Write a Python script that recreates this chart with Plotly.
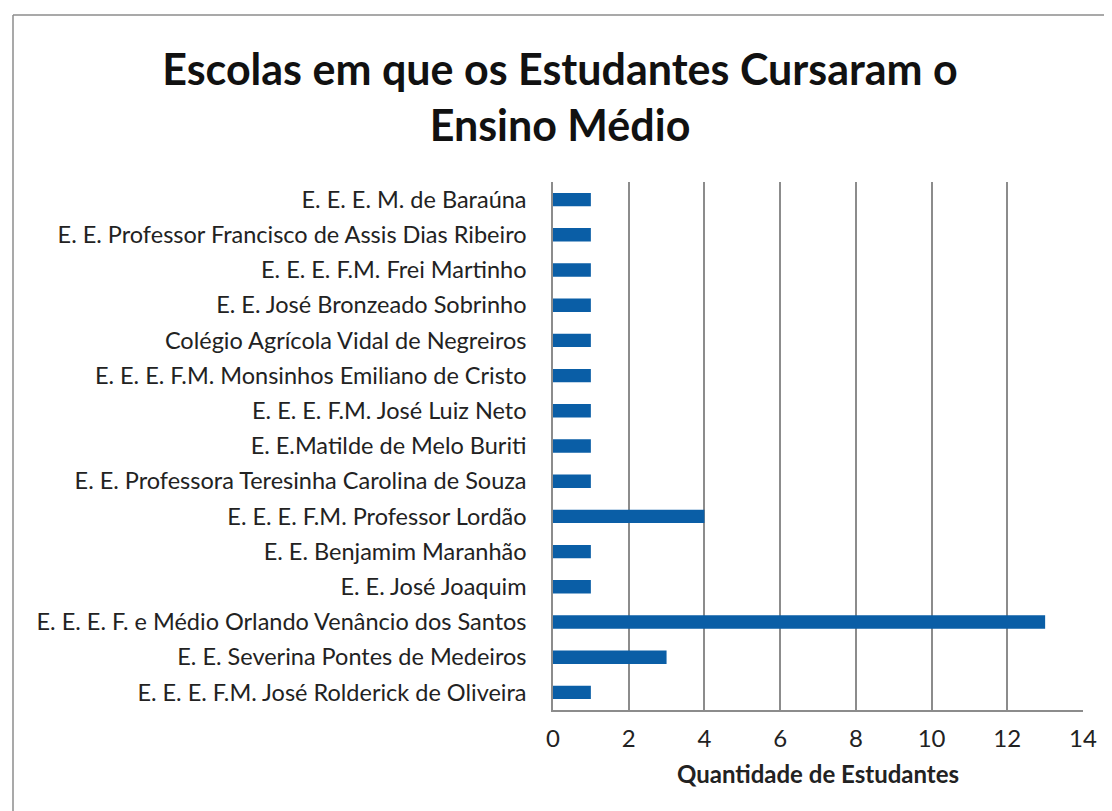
import plotly.graph_objects as go

escolas = [
    "E. E. E. M. de Baraúna",
    "E. E. Professor Francisco de Assis Dias Ribeiro",
    "E. E. E. F.M. Frei Martinho",
    "E. E. José Bronzeado Sobrinho",
    "Colégio Agrícola Vidal de Negreiros",
    "E. E. E. F.M. Monsinhos Emiliano de Cristo",
    "E. E. E. F.M. José Luiz Neto",
    "E. E.Matilde de Melo Buriti",
    "E. E. Professora Teresinha Carolina de Souza",
    "E. E. E. F.M. Professor Lordão",
    "E. E. Benjamim Maranhão",
    "E. E. José Joaquim",
    "E. E. E. F. e Médio Orlando Venâncio dos Santos",
    "E. E. Severina Pontes de Medeiros",
    "E. E. E. F.M. José Rolderick de Oliveira",
]
quantidade = [1, 1, 1, 1, 1, 1, 1, 1, 1, 4, 1, 1, 13, 3, 1]
x_ticks = [0, 2, 4, 6, 8, 10, 12, 14]

FONT = "Lato"
W, H = 1104, 803          # page body has an 8px margin
L, R, T, B = 545, 29, 174, 101
PW, PH = W - L - R, H - T - B

fig = go.Figure(go.Bar(
    x=quantidade, y=escolas, orientation="h",
    marker=dict(color="#0A5EA6", line=dict(width=0)),
))

fig.update_layout(
    width=W, height=H,
    paper_bgcolor="white", plot_bgcolor="white",
    margin=dict(l=L, r=R, t=T, b=B, autoexpand=False),
    bargap=0.62,
    showlegend=False,
    title=dict(
        text="<b>Escolas em que os Estudantes Cursaram o<br>Ensino Médio</b>",
        x=0.5, xanchor="center", y=1 - 77 / H, yanchor="middle",
        font=dict(family=FONT, size=43, color="#111111"),
    ),
    font=dict(family=FONT, color="#1a1a1a"),
)
fig.update_xaxes(
    range=[0, 14], tickvals=x_ticks, ticktext=[str(v) for v in x_ticks],
    showgrid=True, gridcolor="#8c8c8c", gridwidth=1.5,
    showline=True, linecolor="#8c8c8c", linewidth=1.5, mirror=False,
    zeroline=False, ticks="", tickfont=dict(size=24, color="#222222"),
    ticklabelstandoff=6,
    title=dict(text="<b>Quantidade de Estudantes</b>", font=dict(size=24, color="#222222"), standoff=16),
)
fig.update_yaxes(
    autorange="reversed", showgrid=False,
    showline=True, linecolor="#8c8c8c", linewidth=1.5,
    ticks="", tickfont=dict(size=23.5, color="#222222"),
    ticklabelstandoff=20,
)
# outer chart border (top and left visible in the reference)
top_y = (H - B - 7) / PH
left_x = (5 - L) / PW
fig.add_shape(type="line", xref="paper", yref="paper",
              x0=left_x, x1=(W - L) / PW, y0=top_y, y1=top_y,
              line=dict(color="#8c8c8c", width=1.5))
fig.add_shape(type="line", xref="paper", yref="paper",
              x0=left_x, x1=left_x, y0=top_y, y1=-B / PH,
              line=dict(color="#8c8c8c", width=1.5))

fig.write_html("out.html")
